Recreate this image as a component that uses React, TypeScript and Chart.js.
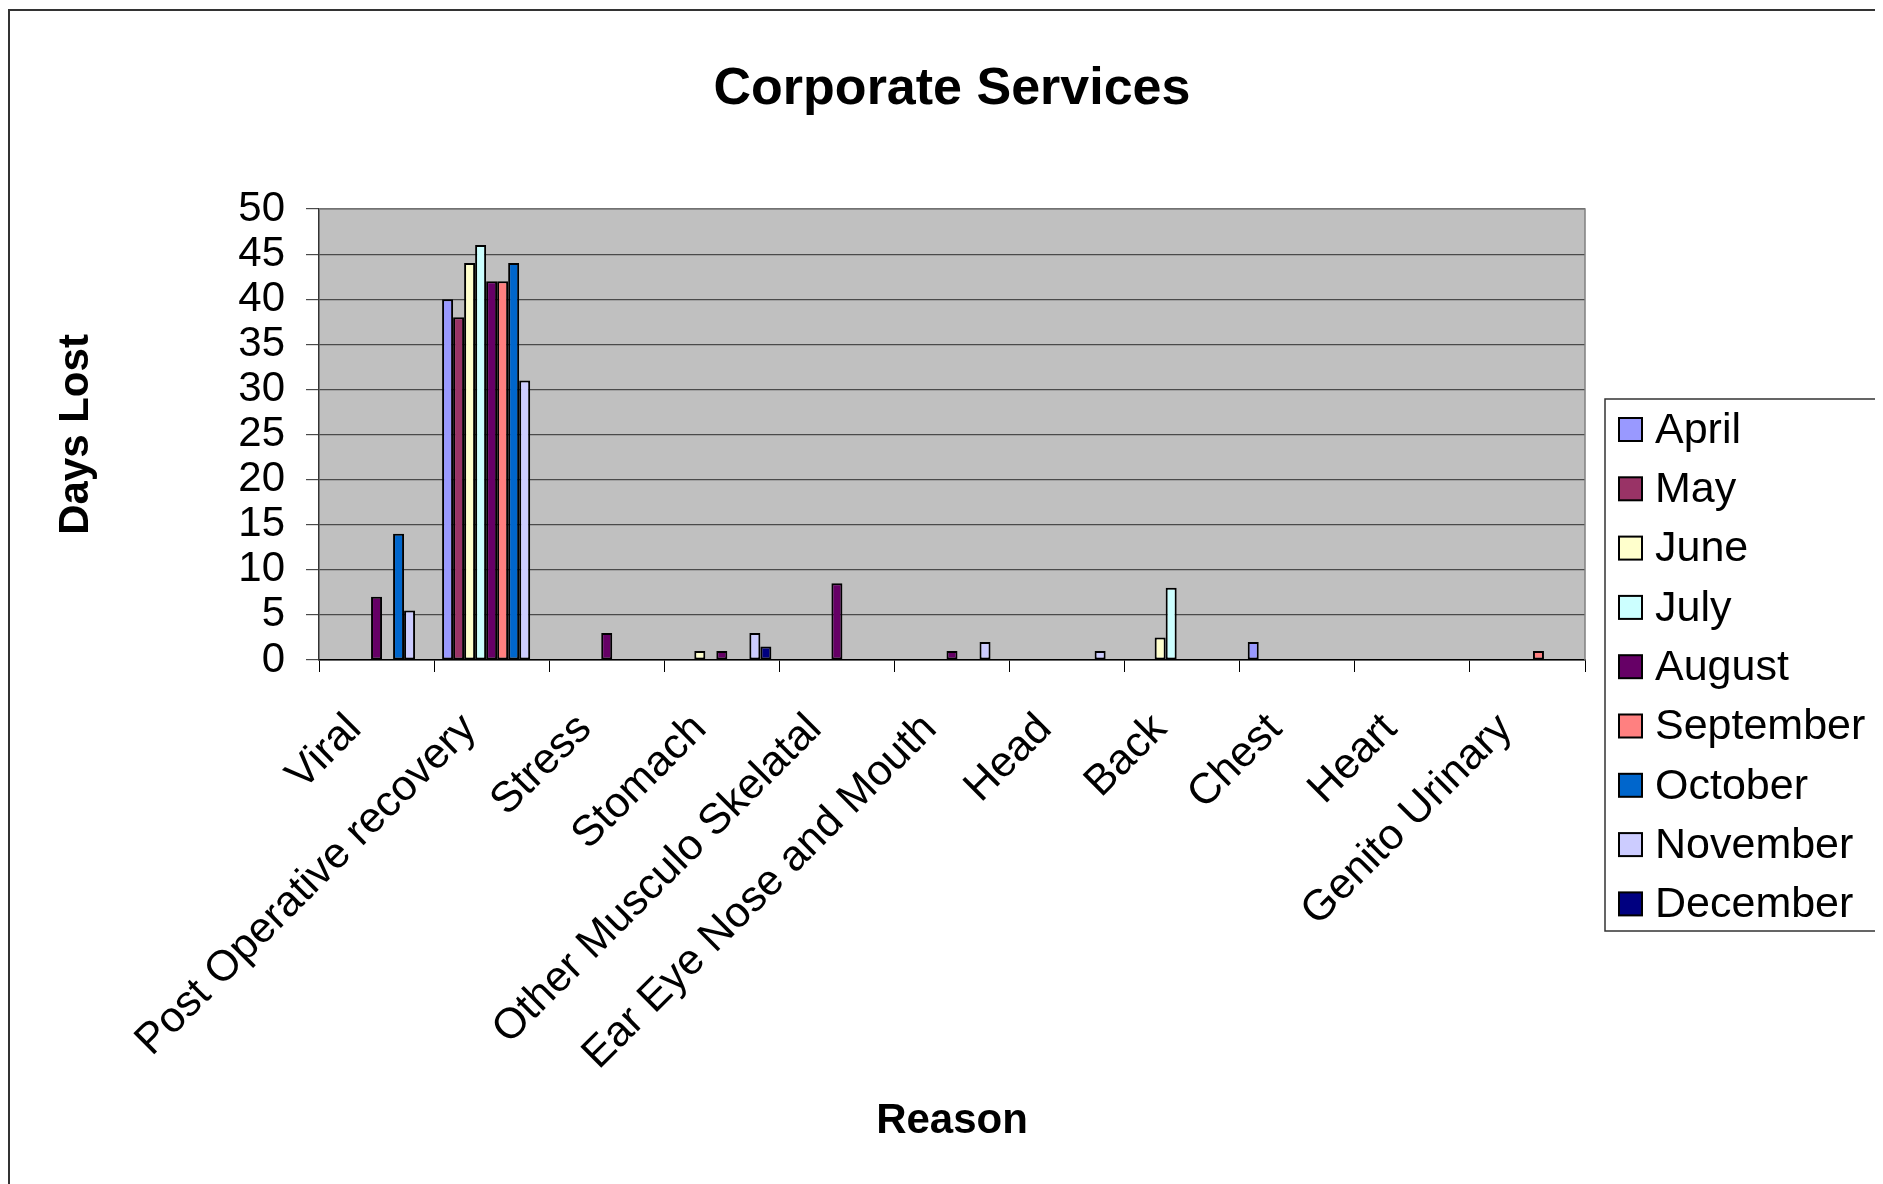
import React, { useEffect, useRef } from "react";
import { Chart, registerables } from "chart.js";

Chart.register(...registerables);

const chartTitle = "Corporate Services";
const xTitle = "Reason";
const yTitle = "Days Lost";

const categories = [
  "Viral",
  "Post Operative recovery",
  "Stress",
  "Stomach",
  "Other Musculo Skelatal",
  "Ear Eye Nose and Mouth",
  "Head",
  "Back",
  "Chest",
  "Heart",
  "Genito Urinary",
];

const months = ["April", "May", "June", "July", "August", "September", "October", "November", "December"];

const april = [null, 40, null, null, null, null, null, null, 2, null, null];
const may = [null, 38, null, null, null, null, null, null, null, null, null];
const june = [null, 44, null, 1, null, null, null, 2.5, null, null, null];
const july = [null, 46, null, null, null, null, null, 8, null, null, null];
const august = [7, 42, 3, 1, 8.5, 1, null, null, null, null, null];
const september = [null, 42, null, null, null, null, null, null, null, null, 1];
const october = [14, 44, null, null, null, null, null, null, null, null, null];
const november = [5.5, 31, null, 3, null, 2, 1, null, null, null, null];
const december = [null, null, null, 1.5, null, null, null, null, null, null, null];

const seriesValues = [april, may, june, july, august, september, october, november, december];

const monthColors = ["#9999FF", "#993366", "#FFFFCC", "#CCFFFF", "#660066", "#FF8080", "#0066CC", "#CCCCFF", "#000080"];

const yMin = 0;
const yMax = 50;
const yStep = 5;

const FONT = "'Liberation Sans', Arial, Helvetica, sans-serif";

const W = 1875;
const H = 1176;

export default function App() {
  const ref = useRef<HTMLCanvasElement | null>(null);

  useEffect(() => {
    document.body.style.overflow = "hidden";
    const canvas = ref.current;
    if (!canvas) return;

    const bgPlugin = {
      id: "bgPlugin",
      beforeDraw(chart: any) {
        const { ctx, chartArea } = chart;
        ctx.save();
        ctx.fillStyle = "#FFFFFF";
        ctx.fillRect(0, 0, chart.width, chart.height);
        ctx.fillStyle = "#C0C0C0";
        ctx.fillRect(chartArea.left, chartArea.top, chartArea.right - chartArea.left, chartArea.bottom - chartArea.top);
        // outer frame (top and left)
        ctx.strokeStyle = "#333333";
        ctx.lineWidth = 2;
        ctx.beginPath();
        ctx.moveTo(1, chart.height);
        ctx.lineTo(1, 2);
        ctx.lineTo(chart.width, 2);
        ctx.stroke();
        ctx.restore();
      },
      beforeDatasetsDraw(chart: any) {
        const { ctx, chartArea } = chart;
        ctx.save();
        ctx.strokeStyle = "#808080";
        ctx.lineWidth = 1.5;
        ctx.beginPath();
        ctx.moveTo(chartArea.left, chartArea.top);
        ctx.lineTo(chartArea.right, chartArea.top);
        ctx.lineTo(chartArea.right, chartArea.bottom);
        ctx.stroke();
        ctx.restore();
      },
      afterDraw(chart: any) {
        const { ctx } = chart;
        ctx.save();
        // title
        ctx.fillStyle = "#000";
        ctx.font = `bold 52px ${FONT}`;
        ctx.textAlign = "center";
        ctx.textBaseline = "middle";
        ctx.fillText(chartTitle, 944, 82);

        // legend
        const lx = 1597, ly = 391, lw = 273, lh = 532;
        ctx.fillStyle = "#FFFFFF";
        ctx.fillRect(lx, ly, lw, lh);
        ctx.strokeStyle = "#333";
        ctx.lineWidth = 1.5;
        ctx.strokeRect(lx, ly, lw, lh);
        ctx.font = `43px ${FONT}`;
        ctx.textAlign = "left";
        ctx.textBaseline = "middle";
        chart.data.datasets.forEach((ds: any, i: number) => {
          const cy = 421 + i * 59.3;
          ctx.fillStyle = ds.backgroundColor;
          ctx.fillRect(1611, cy - 11, 23, 23);
          ctx.strokeStyle = "#000";
          ctx.lineWidth = 2;
          ctx.strokeRect(1611, cy - 11, 23, 23);
          ctx.fillStyle = "#000";
          ctx.fillText(ds.label, 1647, cy + 2);
        });
        ctx.restore();
      },
    };

    const chart = new Chart(canvas, {
      type: "bar",
      data: {
        labels: categories,
        datasets: months.map((m, i) => ({
          label: m,
          data: seriesValues[i],
          backgroundColor: monthColors[i],
          borderColor: "#000000",
          borderWidth: 2,
          borderSkipped: false,
          categoryPercentage: 0.861,
          barPercentage: 1,
        })),
      },
      options: {
        responsive: false,
        animation: false,
        layout: { padding: { top: 201, right: 298, left: 0, bottom: 0 } },
        plugins: {
          legend: { display: false },
          title: { display: false },
          tooltip: { enabled: false },
        },
        scales: {
          x: {
            afterFit(scale: any) {
              scale.height = 524;
            },
            grid: {
              offset: true,
              drawOnChartArea: false,
              drawTicks: true,
              tickLength: 12,
              tickColor: "#000",
            },
            border: { display: true, color: "#000", width: 1.5 },
            ticks: {
              autoSkip: false,
              minRotation: 45,
              maxRotation: 45,
              padding: 32,
              labelOffset: -22,
              color: "#000",
              font: { family: FONT, size: 43 },
            },
            title: {
              display: true,
              text: xTitle,
              color: "#000",
              font: { family: FONT, size: 42, weight: "bold" },
              padding: { top: 0, bottom: 37 },
            },
          },
          y: {
            min: yMin,
            max: yMax,
            afterFit(scale: any) {
              scale.width = 311;
            },
            grid: {
              color: "#4a4a4a",
              lineWidth: 1.2,
              tickLength: 13,
              tickColor: "#4a4a4a",
            },
            border: { display: true, color: "#333", width: 1.5 },
            ticks: {
              stepSize: yStep,
              autoSkip: false,
              padding: 21,
              color: "#000",
              font: { family: FONT, size: 42 },
            },
            title: {
              display: true,
              text: yTitle,
              color: "#000",
              font: { family: FONT, size: 42, weight: "bold" },
              padding: { top: 43, bottom: 0 },
            },
          },
        },
      },
      plugins: [bgPlugin],
    } as any);

    return () => chart.destroy();
  }, []);

  return (
    <div style={{ width: W, height: H }}>
      <canvas ref={ref} width={W} height={H} style={{ display: "block", width: W, height: H }} />
    </div>
  );
}
